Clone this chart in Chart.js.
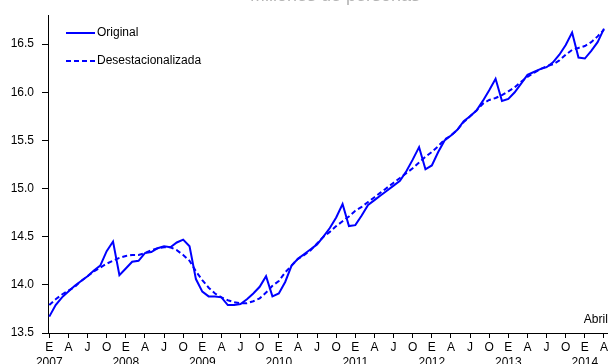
<!DOCTYPE html>
<html>
<head>
<meta charset="utf-8">
<script src="https://cdn.jsdelivr.net/npm/chart.js@4.4.1/dist/chart.umd.min.js"></script>
<style>
  body { margin: 0; background: #fff; }
  canvas { display: block; }
</style>
</head>
<body>
<canvas id="empleoChart" width="610" height="364"></canvas>
<script>
// monthly series, Jan 2007 .. Apr 2014 (millones de personas)
const original = [
  13.67, 13.79, 13.87, 13.93, 13.99, 14.04, 14.09, 14.15, 14.20, 14.35, 14.45, 14.10,
  14.17, 14.24, 14.25, 14.33, 14.34, 14.38, 14.40, 14.39, 14.44, 14.47, 14.40, 14.06,
  13.93, 13.88, 13.88, 13.87, 13.79, 13.79, 13.80, 13.85, 13.91, 13.98, 14.09, 13.88,
  13.91, 14.03, 14.20, 14.27, 14.32, 14.37, 14.42, 14.50, 14.59, 14.70, 14.84, 14.61,
  14.62, 14.72, 14.83, 14.88, 14.93, 14.98, 15.03, 15.08, 15.18, 15.30, 15.43, 15.20,
  15.24, 15.38, 15.50, 15.55, 15.61, 15.70, 15.75, 15.81, 15.91, 16.02, 16.14, 15.91,
  15.93, 16.00, 16.09, 16.18, 16.21, 16.24, 16.26, 16.31, 16.39, 16.49, 16.62, 16.36,
  16.35, 16.43, 16.52, 16.66
];

const desestacionalizada = [
  13.79, 13.85, 13.90, 13.94, 13.98, 14.04, 14.09, 14.14, 14.18, 14.22, 14.25, 14.28,
  14.30, 14.31, 14.31, 14.33, 14.36, 14.38, 14.39, 14.39, 14.36, 14.31, 14.25, 14.14,
  14.05, 13.97, 13.91, 13.87, 13.84, 13.82, 13.81, 13.81, 13.83, 13.86, 13.92, 13.99,
  14.04, 14.13, 14.20, 14.27, 14.31, 14.36, 14.43, 14.50, 14.55, 14.61, 14.66, 14.71,
  14.77, 14.81, 14.86, 14.91, 14.96, 15.01, 15.06, 15.11, 15.16, 15.21, 15.27, 15.33,
  15.38, 15.44, 15.51, 15.55, 15.61, 15.69, 15.75, 15.81, 15.88, 15.92, 15.94, 15.97,
  16.01, 16.05, 16.11, 16.16, 16.20, 16.24, 16.27, 16.29, 16.33, 16.39, 16.44, 16.46,
  16.48, 16.52, 16.58, 16.65
];

const years = [2007, 2008, 2009, 2010, 2011, 2012, 2013, 2014];
const quarterLetters = ["E", "A", "J", "O"];
const yTicks = [13.5, 14.0, 14.5, 15.0, 15.5, 16.0, 16.5];
const seriesNames = ["Original", "Desestacionalizada"];
const titleText = "Millones de personas";
const lastMonthText = "Abril";

const FONT = "'Liberation Sans', Arial, sans-serif";
const BLUE = "#0000ff";

const toPoints = arr => arr.map((v, i) => ({ x: i, y: v }));
const xTicks = [];
for (let m = 0; m < original.length; m += 3) xTicks.push(m);

const extras = {
  id: "extras",
  afterDraw(chart) {
    const ctx = chart.ctx;
    const area = chart.chartArea;
    ctx.save();

    // title (cut off at the top in the original)
    ctx.fillStyle = "#b4b4b4";
    ctx.font = "18px " + FONT;
    ctx.textAlign = "center";
    ctx.textBaseline = "alphabetic";
    ctx.fillText(titleText, 335, 1);

    // legend
    ctx.font = "12px " + FONT;
    ctx.textAlign = "left";
    ctx.textBaseline = "middle";
    const rows = [33, 61];
    chart.data.datasets.forEach((ds, i) => {
      ctx.strokeStyle = ds.borderColor;
      ctx.lineWidth = 2;
      ctx.setLineDash(ds.borderDash || []);
      ctx.beginPath();
      ctx.moveTo(66, rows[i]);
      ctx.lineTo(95, rows[i]);
      ctx.stroke();
      ctx.setLineDash([]);
      ctx.fillStyle = "#000";
      ctx.fillText(ds.label, 97, rows[i]);
    });

    // last month note
    ctx.textAlign = "right";
    ctx.fillText(lastMonthText, area.right, area.bottom - 13);
    ctx.restore();
  }
};

const ctx = document.getElementById("empleoChart").getContext("2d");
new Chart(ctx, {
  type: "line",
  data: {
    datasets: [
      {
        label: seriesNames[0],
        data: toPoints(original),
        borderColor: BLUE,
        borderWidth: 2,
        pointRadius: 0,
        tension: 0,
        fill: false
      },
      {
        label: seriesNames[1],
        data: toPoints(desestacionalizada),
        borderColor: BLUE,
        borderWidth: 2,
        borderDash: [5, 3],
        pointRadius: 0,
        tension: 0,
        fill: false
      }
    ]
  },
  options: {
    responsive: false,
    animation: false,
    layout: { padding: { top: 13, right: 2, left: 0, bottom: 0 } },
    plugins: {
      legend: { display: false },
      tooltip: { enabled: false }
    },
    scales: {
      x: {
        type: "linear",
        min: -0.2,
        max: 87.6,
        afterBuildTicks: scale => { scale.ticks = xTicks.map(v => ({ value: v })); },
        afterFit: scale => { scale.height = 31; },
        border: { color: "#000", width: 1 },
        grid: { drawOnChartArea: false, tickLength: 5, tickColor: "#000" },
        ticks: {
          autoSkip: false,
          maxRotation: 0,
          padding: 2,
          color: "#000",
          font: { family: FONT, size: 12, lineHeight: 1.25 },
          callback: v => {
            const letter = quarterLetters[(v / 3) % 4];
            const yr = v % 12 === 0 ? String(years[v / 12]) : "";
            return [letter, yr];
          }
        }
      },
      y: {
        min: 13.5,
        max: 16.8,
        afterBuildTicks: scale => { scale.ticks = yTicks.map(v => ({ value: v })); },
        afterFit: scale => { scale.width = 48; },
        border: { color: "#000", width: 1 },
        grid: { drawOnChartArea: false, tickLength: 6, tickColor: "#000" },
        ticks: {
          padding: 8,
          color: "#000",
          font: { family: FONT, size: 12 },
          callback: v => v.toFixed(1)
        }
      }
    }
  },
  plugins: [extras]
});
</script>
</body>
</html>
